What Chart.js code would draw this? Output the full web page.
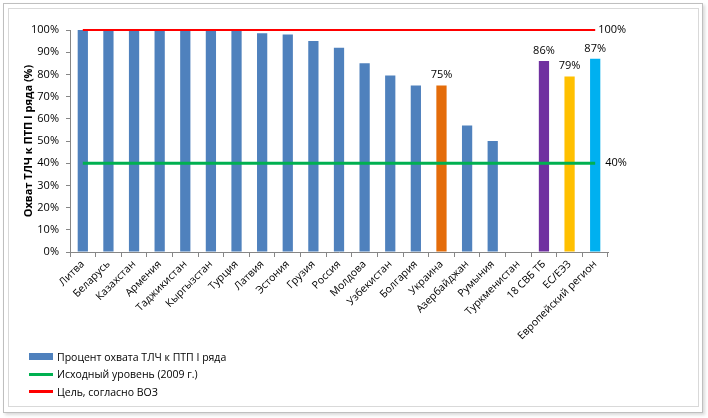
<!DOCTYPE html>
<html>
<head>
<meta charset="utf-8">
<script src="https://cdn.jsdelivr.net/npm/chart.js@4.4.0/dist/chart.umd.min.js"></script>
<style>
  body { margin: 0; background: #fff; }
  #wrap { position: relative; width: 708px; height: 418px; font-family: 'Open Sans', sans-serif; }
  .frame-outer { position: absolute; left: 3px; top: 3px; width: 698px; height: 408px; border: 1px solid #bfbfbf; box-shadow: 2px 2px 3px rgba(0,0,0,0.15); }
  .frame-inner { position: absolute; left: 8px; top: 8px; width: 689px; height: 397px; border: 1px solid #d9d9d9; }
  #c { position: absolute; left: 0; top: 0; }
  #legend { position: absolute; left: 29px; top: 348px; font-size: 10.5px; color: #000; }
  #legend div { height: 17.5px; display: flex; align-items: center; }
  #legend span.sw { display: inline-block; width: 24px; margin-right: 4px; }
</style>
</head>
<body>
<div id="wrap">
  <div class="frame-outer"></div>
  <div class="frame-inner"></div>
  <canvas id="c" width="708" height="418"></canvas>
  <div id="legend"></div>
</div>
<script>
const categories = ['Литва', 'Беларусь', 'Казахстан', 'Армения', 'Таджикистан', 'Кыргызстан', 'Турция',
  'Латвия', 'Эстония', 'Грузия', 'Россия', 'Молдова', 'Узбекистан', 'Болгария', 'Украина',
  'Азербайджан', 'Румыния', 'Туркменистан', '18 СВБ ТБ', 'ЕС/ЕЭЗ', 'Европейский регион'];
const coverage = [100, 100, 100, 100, 100, 100, 100, 98.5, 98, 95, 92, 85, 79.5, 75, 75, 57, 50, null, 86, 79, 87];
const baseline2009 = [40, 40, 40, 40, 40, 40, 40, 40, 40, 40, 40, 40, 40, 40, 40, 40, 40, 40, 40, 40, 40];
const whoTarget = [100, 100, 100, 100, 100, 100, 100, 100, 100, 100, 100, 100, 100, 100, 100, 100, 100, 100, 100, 100, 100];
const labeledBars = ['Украина', '18 СВБ ТБ', 'ЕС/ЕЭЗ', 'Европейский регион'];
const yTicks = [0, 10, 20, 30, 40, 50, 60, 70, 80, 90, 100];

const BLUE = '#4F81BD';
const specialColors = { 'Украина': '#E46C0A', '18 СВБ ТБ': '#7030A0', 'ЕС/ЕЭЗ': '#FFC000', 'Европейский регион': '#00B0F0' };
const barColors = categories.map(c => specialColors[c] || BLUE);
const FONT = "'Open Sans', sans-serif";

const labelPlugin = {
  id: 'labels',
  afterDatasetsDraw(chart) {
    const ctx = chart.ctx;
    ctx.save();
    ctx.font = '11px ' + FONT;
    ctx.fillStyle = '#000';
    // value labels over selected bars
    const barMeta = chart.getDatasetMeta(0);
    ctx.textAlign = 'center';
    ctx.textBaseline = 'bottom';
    categories.forEach((c, i) => {
      if (labeledBars.includes(c) && coverage[i] != null) {
        const el = barMeta.data[i];
        ctx.fillText(Math.round(coverage[i]) + '%', el.x, el.y - 5);
      }
    });
    // labels at end of reference lines
    ctx.textAlign = 'left';
    ctx.textBaseline = 'middle';
    [1, 2].forEach(di => {
      const ds = chart.data.datasets[di];
      const meta = chart.getDatasetMeta(di);
      const last = meta.data[meta.data.length - 1];
      ctx.fillText(ds.data[ds.data.length - 1] + '%', last.x + ds.endLabelGap, last.y);
    });
    ctx.restore();
  }
};

const chart = new Chart(document.getElementById('c'), {
  type: 'bar',
  data: {
    labels: categories,
    datasets: [
      {
        label: 'Процент охвата ТЛЧ к ПТП I ряда',
        data: coverage,
        backgroundColor: barColors,
        categoryPercentage: 1,
        barPercentage: 0.4,
        order: 2
      },
      {
        type: 'line',
        label: 'Исходный уровень (2009 г.)',
        data: baseline2009,
        borderColor: '#00B050',
        borderWidth: 3,
        pointRadius: 0,
        fill: false,
        endLabelGap: 10,
        order: 1
      },
      {
        type: 'line',
        label: 'Цель, согласно ВОЗ',
        data: whoTarget,
        borderColor: '#FF0000',
        borderWidth: 2,
        pointRadius: 0,
        fill: false,
        clip: 4,
        endLabelGap: 3,
        order: 0
      }
    ]
  },
  options: {
    responsive: false,
    animation: false,
    layout: { padding: { left: 18, right: 100, top: 30, bottom: 0 } },
    plugins: {
      legend: { display: false },
      tooltip: { enabled: false }
    },
    scales: {
      x: {
        afterFit: s => { s.height = 166; },
        grid: { drawOnChartArea: false, color: '#868686', tickLength: 5, offset: true },
        border: { color: '#868686' },
        ticks: { minRotation: 45, maxRotation: 45, autoSkip: false, color: '#000', font: { family: FONT, size: 10.5 }, padding: 1 }
      },
      y: {
        min: 0,
        max: 100,
        afterFit: s => { s.width = 52; },
        afterBuildTicks: s => { s.ticks = yTicks.map(v => ({ value: v })); },
        grid: { drawOnChartArea: false, color: '#868686', tickLength: 4 },
        border: { color: '#868686' },
        ticks: { color: '#000', font: { family: FONT, size: 11 }, padding: 7, callback: v => v + '%' },
        title: { display: true, text: 'Охват ТЛЧ к ПТП I ряда (%)', color: '#000', font: { family: FONT, size: 11, weight: 'bold' } }
      }
    }
  },
  plugins: [labelPlugin]
});

// legend stacked vertically, as in the original
const legend = document.getElementById('legend');
chart.data.datasets.forEach((ds, i) => {
  const row = document.createElement('div');
  const sw = document.createElement('span');
  sw.className = 'sw';
  sw.style.height = i === 0 ? '7px' : '3px';
  sw.style.background = i === 0 ? BLUE : ds.borderColor;
  row.appendChild(sw);
  row.appendChild(document.createTextNode(ds.label));
  legend.appendChild(row);
});
</script>
</body>
</html>
